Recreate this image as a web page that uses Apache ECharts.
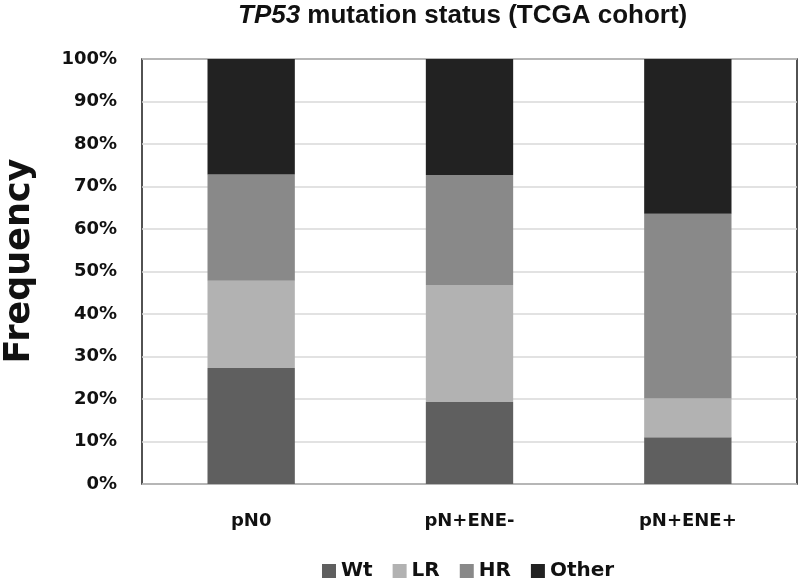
<!DOCTYPE html>
<html>
<head>
<meta charset="utf-8">
<script src="https://cdn.jsdelivr.net/npm/echarts@6/dist/echarts.min.js"></script>
<style>html,body{margin:0;padding:0;background:#fff}#c{width:800px;height:581px}</style>
</head>
<body>
<div id="c"></div>
<script>
var categories = ['pN0', 'pN+ENE-', 'pN+ENE+'];
var seriesNames = ['Wt', 'LR', 'HR', 'Other'];
var wtValues = [27.3, 19.3, 11.0];
var lrValues = [20.5, 27.5, 9.1];
var hrValues = [25.0, 25.9, 43.5];
var otherValues = [27.2, 27.3, 36.4];
var colors = ['#5f5f5f', '#b2b2b2', '#898989', '#222222'];

var FONT = 'DejaVu Sans';
var TFONT = 'Liberation Sans';
var chart = echarts.init(document.getElementById('c'), null, {renderer: 'canvas'});
var allValues = [wtValues, lrValues, hrValues, otherValues];
var series = seriesNames.map(function (n, i) {
  return {
    name: n, type: 'bar', stack: 'total', barWidth: '40%',
    data: allValues[i], itemStyle: {color: colors[i]}
  };
});
chart.setOption({
  animation: false,
  backgroundColor: '#fff',
  title: {
    text: '{i|TP53} mutation status (TCGA cohort)',
    left: 233, top: -2,
    textStyle: {
      fontFamily: TFONT, fontWeight: 'bold', fontSize: 26, color: '#111',
      rich: {i: {fontFamily: TFONT, fontWeight: 'bold', fontStyle: 'italic', fontSize: 26, color: '#111'}}
    }
  },
  legend: {
    data: seriesNames, left: 317, top: 556,
    itemWidth: 14, itemHeight: 14, itemGap: 20, icon: 'rect',
    textStyle: {fontFamily: FONT, fontWeight: 'bold', fontSize: 20, color: '#111'}
  },
  grid: {left: 142, right: 3, top: 59, bottom: 97, show: true, borderColor: '#1a1a1a', borderWidth: 1.5, containLabel: false},
  xAxis: {
    type: 'category', data: categories,
    axisLine: {show: false}, axisTick: {show: false},
    axisLabel: {fontFamily: FONT, fontWeight: 'bold', fontSize: 18, color: '#111', margin: 28}
  },
  yAxis: {
    type: 'value', min: 0, max: 100, interval: 10,
    axisLine: {show: false}, axisTick: {show: false},
    splitLine: {lineStyle: {color: '#d9d9d9', width: 1.5}},
    axisLabel: {fontFamily: FONT, fontWeight: 'bold', fontSize: 18, color: '#111', margin: 25, formatter: '{value}%'}
  },
  graphic: [{
    type: 'text', x: 20, y: 261, rotation: Math.PI / 2,
    style: {text: 'Frequency', fontFamily: FONT, fontWeight: 'bold', fontSize: 35, fill: '#111', textAlign: 'center', textVerticalAlign: 'middle'}
  }],
  series: series
});
</script>
</body>
</html>
